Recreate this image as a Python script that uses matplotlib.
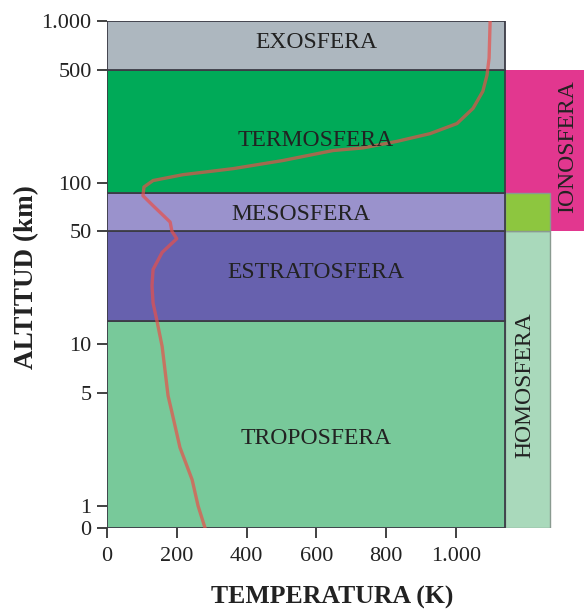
import numpy as np
import matplotlib
matplotlib.use("Agg")
import matplotlib.pyplot as plt
from matplotlib.patches import Rectangle

# ---- data ----
layer_names = ["TROPOSFERA", "ESTRATOSFERA", "MESOSFERA", "TERMOSFERA", "EXOSFERA"]
layer_bottom = [0, 14, 50, 86, 500]
layer_top = [14, 50, 86, 500, 1000]
layer_colors = ["#78c99a", "#6761ae", "#9a92cc", "#00aa58", "#adb7bf"]
layer_label_alt = [2.7, 29, 66, 188, 762]
layer_label_temp = [599, 599, 556, 597, 599]

temp_alt = [0, 1, 1.45, 2.3, 3.8, 4.8, 9.7, 14, 18, 23, 29, 37, 45, 50, 57, 72, 83,
            94, 103, 112, 122, 137, 158, 164, 180, 201, 232, 288, 367, 462, 589, 1000]
temp_K = [281, 261, 244, 209, 186, 175, 158, 143, 132, 129, 132, 158, 200, 186, 181, 132, 103,
          106, 132, 218, 361, 504, 648, 734, 831, 926, 1003, 1049, 1077, 1089, 1095, 1098]

yticks = [0, 1, 5, 10, 50, 100, 500, 1000]
yticklabels = ["0", "1", "5", "10", "50", "100", "500", "1.000"]
xticks = [0, 200, 400, 600, 800, 1000]
xticklabels = ["0", "200", "400", "600", "800", "1.000"]

main_right = 1140
homo_right = 1270
xmax = 1367

# ---- scale ----
K = 0.137
def fwd(a):
    a = np.asarray(a, dtype=float)
    return np.where(a >= 1, np.log10(np.maximum(a, 1e-9)), (a - 1) * K)
def inv(u):
    u = np.asarray(u, dtype=float)
    return np.where(u >= 0, 10 ** u, u / K + 1)

plt.rcParams['font.family'] = ['Liberation Serif', 'DejaVu Serif']

fig = plt.figure(figsize=(5.84, 6.10), dpi=100)
ax = fig.add_axes([107/584, 1 - 528/610, 1 - 107/584, (528 - 21)/610])
ax.set_yscale('function', functions=(fwd, inv))
ax.set_xlim(0, xmax)
ax.set_ylim(0, 1000)

edge = "#3c3c46"
# ionosphere
ax.add_patch(Rectangle((main_right, 50), xmax - main_right, 450, facecolor="#e2378f",
                       edgecolor="none", zorder=1))
# homosphere
ax.add_patch(Rectangle((main_right, 0), homo_right - main_right, 50, facecolor="#a9d9bb",
                       edgecolor="#8a9a90", lw=1, zorder=2))
ax.add_patch(Rectangle((main_right, 50), homo_right - main_right, 36, facecolor="#8dc63f",
                       edgecolor="#8a9a90", lw=1, zorder=2))

for b, t, c in zip(layer_bottom, layer_top, layer_colors):
    ax.add_patch(Rectangle((0, b), main_right, t - b, facecolor=c, edgecolor=edge,
                           lw=1.3, alpha=1, zorder=3))

ax.plot(temp_K, temp_alt, color="#e8504a", lw=2.4, alpha=0.7, zorder=5,
        solid_capstyle='round', solid_joinstyle='round')

for name, a, t in zip(layer_names, layer_label_alt, layer_label_temp):
    ax.text(t, a, name, ha='center', va='center_baseline', fontsize=17, color="#222222", zorder=6)
ax.text(1321, 167, "IONOSFERA", rotation=90, ha='center', va='center', fontsize=17,
        color="#222222", zorder=6)
ax.text(1198, 5.6, "HOMOSFERA", rotation=90, ha='center', va='center', fontsize=17,
        color="#222222", zorder=6)

for s in ax.spines.values():
    s.set_visible(False)
ax.set_yticks(yticks)
ax.set_yticklabels(yticklabels)
ax.set_xticks(xticks)
ax.set_xticklabels(xticklabels)
ax.yaxis.set_minor_locator(matplotlib.ticker.NullLocator())
ax.tick_params(axis='both', which='major', direction='out', length=7, width=1.3,
               color="#333333", labelsize=16, labelcolor="#222222", pad=4)
ax.tick_params(axis='x', pad=7)

fig.text(332/584, 1 - 597/610, "TEMPERATURA (K)", ha='center', va='center',
         fontsize=18.5, fontweight='bold', color="#222222")
fig.text(27/584, 1 - 277/610, "ALTITUD (km)", ha='center', va='center', rotation=90,
         fontsize=19.5, fontweight='bold', color="#222222")

fig.savefig("out.png", dpi=100)
